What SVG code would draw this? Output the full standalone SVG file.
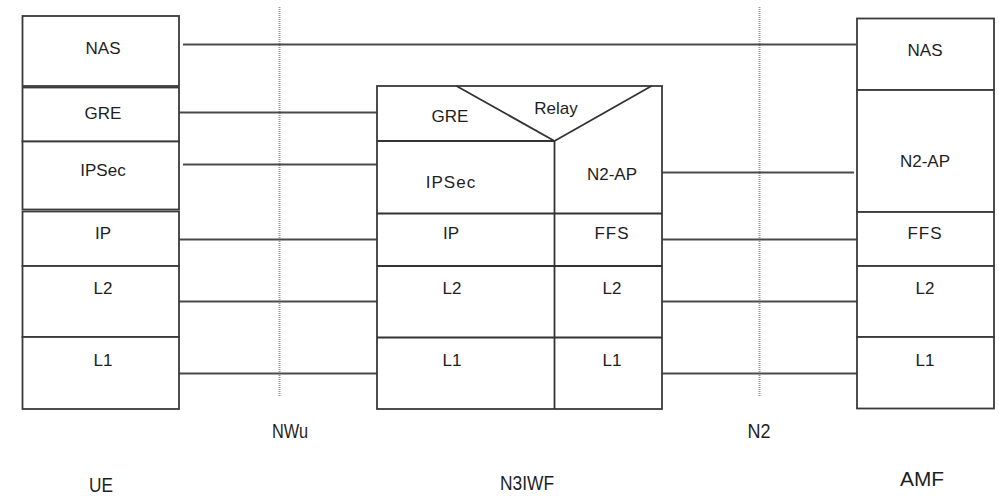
<svg xmlns="http://www.w3.org/2000/svg" width="999" height="497" viewBox="0 0 999 497">
<style>
.box{fill:#fff;stroke:#3a3a3a;stroke-width:1.8}
.div{stroke:#333;stroke-width:1.8;fill:none}
.conn{stroke:#4a4a4a;stroke-width:1.8;fill:none}
.ref{stroke:#999;stroke-width:2;stroke-dasharray:1 1;fill:none}
.t{font-family:"Liberation Sans",Arial,sans-serif;font-size:17px;fill:#1e1e1e;text-anchor:middle}
.sp{letter-spacing:1px}
.b{font-family:"Liberation Sans",Arial,sans-serif;font-size:21px;fill:#1e1e1e;text-anchor:middle}
</style>
<rect width="999" height="497" fill="#fff"/>
<g id="refpoints">
<line class="ref" x1="279.5" y1="7" x2="279.5" y2="397"/>
<line class="ref" x1="759.5" y1="7" x2="759.5" y2="397"/>
</g>
<g id="connectors">
<line class="conn" x1="183" y1="44.5" x2="856" y2="44.5"/>
<line class="conn" x1="179" y1="112.5" x2="377" y2="112.5"/>
<line class="conn" x1="183" y1="164.5" x2="377" y2="164.5"/>
<line class="conn" x1="179" y1="239.5" x2="377" y2="239.5"/>
<line class="conn" x1="179" y1="301.5" x2="377" y2="301.5"/>
<line class="conn" x1="179" y1="373.5" x2="377" y2="373.5"/>
<line class="conn" x1="662" y1="172.5" x2="854" y2="172.5"/>
<line class="conn" x1="662" y1="239.5" x2="857" y2="239.5"/>
<line class="conn" x1="662" y1="301.5" x2="857" y2="301.5"/>
<line class="conn" x1="662" y1="373.5" x2="857" y2="373.5"/>
</g>
<g id="UE">
<rect class="box" x="22.5" y="16" width="156.5" height="70"/>
<rect class="box" x="22.5" y="87.5" width="156.5" height="54"/>
<rect class="box" x="22.5" y="141.5" width="156.5" height="68"/>
<rect class="box" x="22.5" y="211.5" width="156.5" height="54.5"/>
<rect class="box" x="22.5" y="266" width="156.5" height="71"/>
<rect class="box" x="22.5" y="337" width="156.5" height="72"/>
<text class="t" x="103" y="54">NAS</text>
<text class="t" x="103" y="119">GRE</text>
<text class="t" x="103" y="176">IPSec</text>
<text class="t" x="103" y="239">IP</text>
<text class="t" x="103" y="294">L2</text>
<text class="t" x="103" y="366">L1</text>
<text class="b" x="101" y="492" textLength="24" lengthAdjust="spacingAndGlyphs">UE</text>
</g>
<g id="N3IWF">
<rect class="box" x="377" y="86" width="285" height="323"/>
<line class="div" x1="377" y1="141" x2="554.5" y2="141"/>
<polyline class="div" points="456.5,86 554.5,141 651.5,86"/>
<line class="div" x1="554.5" y1="141" x2="554.5" y2="409"/>
<line class="div" x1="377" y1="213.5" x2="662" y2="213.5"/>
<line class="div" x1="377" y1="266" x2="662" y2="266"/>
<line class="div" x1="377" y1="337.5" x2="662" y2="337.5"/>
<text class="t" x="450" y="122">GRE</text>
<text class="t" x="556" y="114">Relay</text>
<text class="t sp" x="451" y="188">IPSec</text>
<text class="t" x="612" y="180">N2-AP</text>
<text class="t" x="451" y="239">IP</text>
<text class="t sp" x="612" y="239">FFS</text>
<text class="t" x="452" y="294">L2</text>
<text class="t" x="612" y="294">L2</text>
<text class="t" x="452" y="366">L1</text>
<text class="t" x="612" y="366">L1</text>
<text class="b" x="527" y="490" textLength="54" lengthAdjust="spacingAndGlyphs">N3IWF</text>
</g>
<g id="AMF">
<rect class="box" x="857" y="18.5" width="137" height="71.5"/>
<rect class="box" x="857" y="90" width="137" height="122"/>
<rect class="box" x="857" y="212" width="137" height="54"/>
<rect class="box" x="857" y="266" width="137" height="71"/>
<rect class="box" x="857" y="337" width="137" height="71.5"/>
<text class="t" x="925" y="56">NAS</text>
<text class="t" x="925" y="167">N2-AP</text>
<text class="t sp" x="925" y="239">FFS</text>
<text class="t" x="925" y="294">L2</text>
<text class="t" x="925" y="366">L1</text>
<text class="b" x="922" y="486" textLength="44" lengthAdjust="spacingAndGlyphs">AMF</text>
</g>
<g id="labels">
<text class="b" x="290" y="438" textLength="36" lengthAdjust="spacingAndGlyphs">NWu</text>
<text class="b" x="759" y="438" textLength="23" lengthAdjust="spacingAndGlyphs">N2</text>
</g>
</svg>
